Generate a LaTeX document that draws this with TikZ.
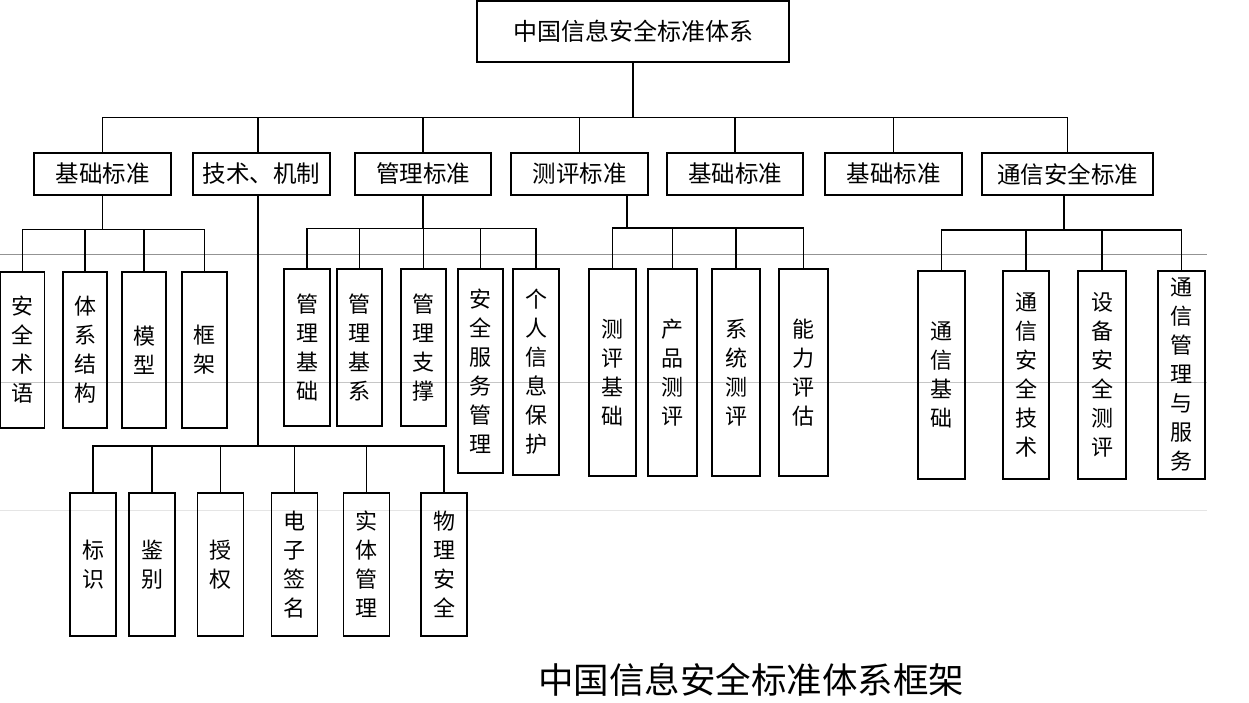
\documentclass[tikz,border=0pt]{standalone}
\usepackage{fontspec}
\newfontfamily\cjk{Noto Sans CJK SC}
\usetikzlibrary{positioning}

\begin{document}
\begin{tikzpicture}[x=1pt,y=-1pt,font=\cjk,
  catbox/.style={draw,line width=1.4pt,inner sep=0pt,minimum height=42,
    font=\cjk\fontsize{23.5}{27}\selectfont},
  leafbox/.style={draw,line width=1.6pt,inner sep=0pt,minimum width=46,
    anchor=north,align=center,font=\cjk\fontsize{22}{29}\selectfont},
  wire/.style={line width=1.3pt}]
  \useasboundingbox (0,0) rectangle (1249,703);

  % Scan lines
  \draw[gray!85,line width=0.9pt] (0,254) -- (1207,254);
  \draw[gray!45,line width=0.9pt] (0,382) -- (1207,382);
  \draw[gray!20,line width=0.9pt] (0,510) -- (1207,510);

  % Root
  \node[catbox,minimum width=312,minimum height=61,
    font=\cjk\fontsize{24}{28}\selectfont] (root) at (633,31.5) {中国信息安全标准体系};

  % Categories
  \node[catbox,minimum width=137] (n1) at (102.5,174) {基础标准};
  \node[catbox,minimum width=137] (n2) at (261.5,174) {技术、机制};
  \node[catbox,minimum width=136] (n3) at (423,174) {管理标准};
  \node[catbox,minimum width=137] (n4) at (579.5,174) {测评标准};
  \node[catbox,minimum width=136] (n5) at (735,174) {基础标准};
  \node[catbox,minimum width=137] (n6) at (893.5,174) {基础标准};
  \node[catbox,minimum width=171] (n7) at (1067.5,174) {通信安全标准};

  \path (root.south) ++(0,55) coordinate (b0);
  \coordinate (b2) at (258,446);
  \draw[wire] (root.south) -- (b0);
  \foreach \n in {n1,n3,n4,n5,n6,n7}
    \draw[wire] (b0) -| (\n.north);
  \draw[wire] (b0) -| (n2.north -| b2);

  % Basic standards
  \node[leafbox,minimum width=44,minimum height=156] (a1) at (22.5,271) {安\\全\\术\\语};
  \node[leafbox,minimum width=44,minimum height=156] (a2) at (85,271) {体\\系\\结\\构};
  \node[leafbox,minimum width=44,minimum height=156] (a3) at (144,271) {模\\型};
  \node[leafbox,minimum width=45,minimum height=156] (a4) at (204.5,271) {框\\架};
  \path (n1.south) ++(0,34) coordinate (b1);
  \draw[wire] (n1.south) -- (b1);
  \foreach \n in {a1,a2,a3,a4}
    \draw[wire] (b1) -| (\n.north);

  % Technology and mechanism
  \node[leafbox,minimum height=143] (t1) at (93,492) {标\\识};
  \node[leafbox,minimum height=143] (t2) at (152,492) {鉴\\别};
  \node[leafbox,minimum height=143] (t3) at (220.5,492) {授\\权};
  \node[leafbox,minimum height=143] (t4) at (294.5,492) {电\\子\\签\\名};
  \node[leafbox,minimum height=143] (t5) at (366.5,492) {实\\体\\管\\理};
  \node[leafbox,minimum height=143] (t6) at (444,492) {物\\理\\安\\全};
  \draw[wire] (n2.south -| b2) -- (b2);
  \foreach \n in {t1,t2,t3,t4,t5,t6}
    \draw[wire] (b2) -| (\n.north);

  % Management standards
  \node[leafbox,minimum height=157] (m1) at (307,268) {管\\理\\基\\础};
  \node[leafbox,minimum width=45,minimum height=157] (m2) at (359.5,268) {管\\理\\基\\系};
  \node[leafbox,minimum width=45,minimum height=157] (m3) at (423.5,268) {管\\理\\支\\撑};
  \node[leafbox,minimum width=45,minimum height=204] (m4) at (480.5,268) {安\\全\\服\\务\\管\\理};
  \node[leafbox,minimum height=206] (m5) at (536,268) {个\\人\\信\\息\\保\\护};
  \path (n3.south) ++(0,33) coordinate (b3);
  \draw[wire] (n3.south) -- (b3);
  \foreach \n in {m1,m2,m3,m4,m5}
    \draw[wire] (b3) -| (\n.north);

  % Evaluation standards
  \node[leafbox,minimum width=47,minimum height=207] (e1) at (612.5,268) {测\\评\\基\\础};
  \node[leafbox,minimum width=49,minimum height=207] (e2) at (672.5,268) {产\\品\\测\\评};
  \node[leafbox,minimum width=48,minimum height=207] (e3) at (736,268) {系\\统\\测\\评};
  \node[leafbox,minimum width=49,minimum height=207] (e4) at (803.5,268) {能\\力\\评\\估};
  \coordinate (b4) at (627,228);
  \draw[wire] (n4.south -| b4) -- (b4);
  \foreach \n in {e1,e2,e3,e4}
    \draw[wire] (b4) -| (\n.north);

  % Communication security standards
  \node[leafbox,minimum width=47,minimum height=208] (s1) at (941.5,270) {通\\信\\基\\础};
  \node[leafbox,minimum height=208] (s2) at (1026,270) {通\\信\\安\\全\\技\\术};
  \node[leafbox,minimum width=48,minimum height=208] (s3) at (1102,270) {设\\备\\安\\全\\测\\评};
  \node[leafbox,minimum width=47,minimum height=208] (s4) at (1181.5,270) {通\\信\\管\\理\\与\\服\\务};
  \coordinate (b7) at (1064,230);
  \draw[wire] (n7.south -| b7) -- (b7);
  \foreach \n in {s1,s2,s3,s4}
    \draw[wire] (b7) -| (\n.north);

  % Caption
  \node[font=\cjk\fontsize{35.5}{40}\selectfont] (cap) at (751,680) {中国信息安全标准体系框架};
\end{tikzpicture}
\end{document}
